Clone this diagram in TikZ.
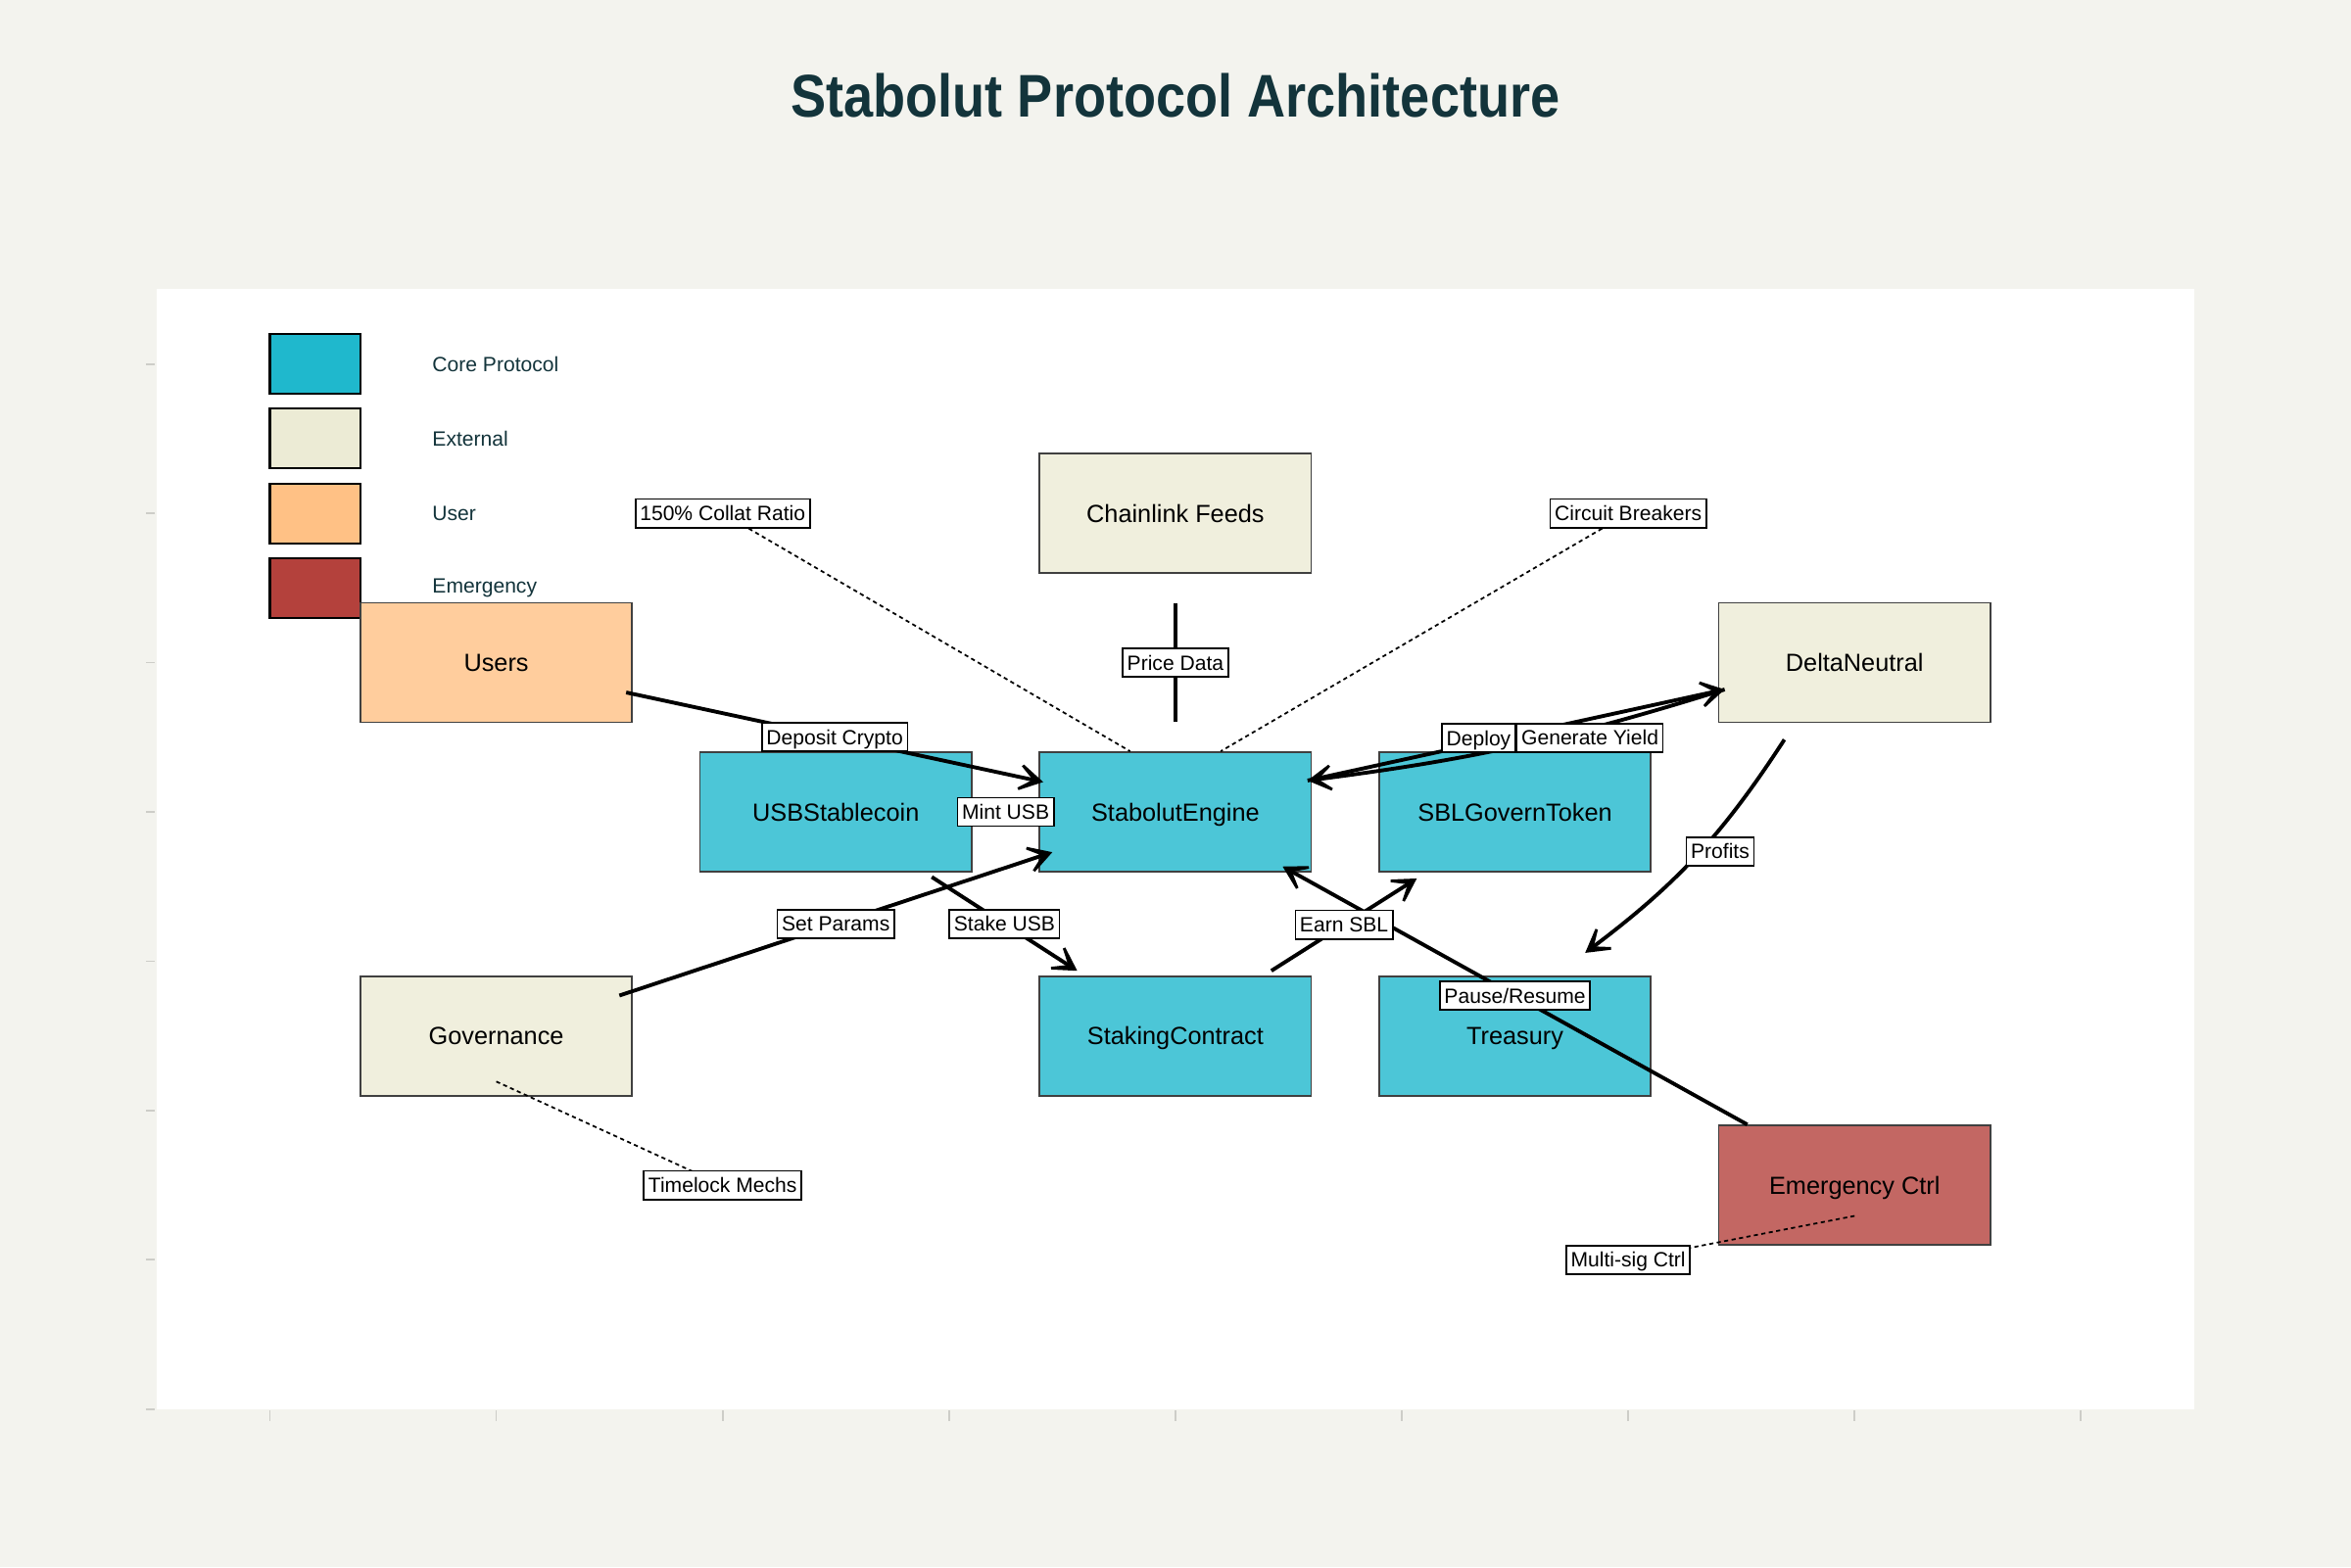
\documentclass[tikz,border=0pt]{standalone}
\usepackage{fontspec}
\setmainfont{Liberation Sans}
\newfontfamily\titlefont{Liberation Sans}[FakeStretch=0.88]
\usetikzlibrary{calc,arrows.meta}

\definecolor{bgcol}{HTML}{F3F3EE}
\definecolor{titlecol}{HTML}{13343B}
\definecolor{corecol}{HTML}{1FB8CD}
\definecolor{extcol}{HTML}{ECEBD5}
\definecolor{usercol}{HTML}{FFC185}
\definecolor{emcol}{HTML}{B4413C}
\definecolor{tickcol}{HTML}{CDCDC8}

\begin{document}
\begin{tikzpicture}[x=2.311cm, y=1.5245cm,
  box/.style={draw=black!75, line width=0.5pt, minimum width=2.773cm, minimum height=1.22cm,
    inner sep=0pt, text height=5.2pt, text depth=0pt, font=\fontsize{7.2}{8.5}\selectfont},
  legbox/.style={draw=black, line width=0.6pt, minimum width=0.924cm, minimum height=0.61cm, inner sep=0pt},
  legtext/.style={anchor=west, inner sep=0pt, text=titlecol, font=\fontsize{6}{7}\selectfont},
  lbl/.style={draw=black, fill=white, line width=0.5pt, inner sep=1.3pt,
    text height=5pt, text depth=0.7pt, font=\fontsize{6}{7}\selectfont},
  flow/.style={line width=1.1pt, -{Stealth[length=0.38cm, width=0.44cm, inset=0.27cm]}},
  note/.style={line width=0.5pt, dash pattern=on 1.2pt off 1pt}]

  % page and plot area
  \fill[bgcol] (-2.755cm,-1.612cm) rectangle (21.245cm,14.388cm);
  \useasboundingbox (-2.755cm,-1.612cm) rectangle (21.245cm,14.388cm);
  \fill[white] (-0.5,0) rectangle (8.5,7.5);
  \foreach \t in {0,...,8}
    \draw[tickcol, line width=0.5pt] (\t,-0.011) -- (\t,-0.077);
  \foreach \t in {0,...,7}
    \draw[tickcol, line width=0.5pt] (-0.509,\t) -- (-0.547,\t);

  \node[font=\titlefont\fontsize{17.5}{20}\selectfont\bfseries, text=titlecol] (title) at (4,8.8)
    {Stabolut Protocol Architecture};

  % legend
  \foreach \lc/\ln [count=\i] in {corecol/Core Protocol, extcol/External, usercol/User, emcol/Emergency} {
    \pgfmathsetmacro{\ly}{7.5-0.5*\i}
    \node[legbox, fill=\lc] (leg\i) at (0.2,\ly) {};
    \node[legtext] (legtxt\i) at (0.715,\ly) {\ln};
  }

  % components
  \node[box, fill=usercol!80] (users) at (1,5) {Users};
  \node[box, fill=extcol!80] (chainlink) at (4,6) {Chainlink Feeds};
  \node[box, fill=extcol!80] (delta) at (7,5) {DeltaNeutral};
  \node[box, fill=corecol!80] (usb) at (2.5,4) {USBStablecoin};
  \node[box, fill=corecol!80] (engine) at (4,4) {StabolutEngine};
  \node[box, fill=corecol!80] (sbl) at (5.5,4) {SBLGovernToken};
  \node[box, fill=extcol!80] (gov) at (1,2.5) {Governance};
  \node[box, fill=corecol!80] (staking) at (4,2.5) {StakingContract};
  \node[box, fill=corecol!80] (treasury) at (5.5,2.5) {Treasury};
  \node[box, fill=emcol!80] (emergency) at (7,1.5) {Emergency Ctrl};

  % flows
  \draw[flow] ($(users.east)+(-0.03,-0.2)$) -- ($(engine.west)+(0.02,0.2)$) coordinate[midway] (depositpos);
  \draw[flow] (engine.west) -- (usb.east) coordinate[midway] (mintpos);
  \draw[line width=1.1pt] ($(chainlink.south)+(0,-0.2)$) -- ($(engine.north)+(0,0.2)$) coordinate[midway] (pricepos);
  \draw[flow] ($(gov.east)+(-0.06,0.27)$) -- ($(engine.west)+(0.06,-0.27)$) coordinate[midway] (paramspos);
  \draw[flow] ($(usb.south east)+(-0.18,-0.03)$) -- ($(staking.north west)+(0.17,0.03)$) coordinate[midway] (stakepos);
  \draw[flow] ($(emergency.north west)+(0.13,0)$) -- ($(engine.south east)+(-0.13,0.04)$) coordinate[midway] (pausepos);
  \draw[flow] ($(staking.north east)+(-0.18,0.03)$) -- ($(sbl.south west)+(0.17,-0.04)$) coordinate[midway] (earnpos);
  \draw[flow] ($(delta.west)+(0.03,-0.18)$) to[bend left=5] coordinate[midway] (yieldpos) ($(engine.east)+(-0.02,0.21)$);
  \draw[flow] ($(engine.east)+(-0.02,0.21)$) -- ($(delta.west)+(0.03,-0.18)$) coordinate[midway] (deploypos);
  \draw[flow] ($(delta.south)+(-0.31,-0.11)$) to[bend left=10] coordinate[midway] (profitpos) ($(treasury.north)+(0.31,0.15)$);

  % notes
  \coordinate (collatpos) at (2,6);
  \coordinate (circuitpos) at (6,6);
  \coordinate (timelockpos) at (2,1.5);
  \coordinate (multisigpos) at (6,1);
  \draw[note] (collatpos) -- ($(engine.north)+(-0.2,0)$);
  \draw[note] (circuitpos) -- ($(engine.north)+(0.2,0)$);
  \draw[note] ($(gov.south)+(0,0.1)$) -- (timelockpos);
  \draw[note] ($(emergency.south)+(0,0.2)$) -- (multisigpos);

  % labels
  \node[lbl] (depositlbl) at (depositpos) {Deposit Crypto};
  \node[lbl] (mintlbl) at (mintpos) {Mint USB};
  \node[lbl] (pricelbl) at (pricepos) {Price Data};
  \node[lbl] (paramslbl) at (paramspos) {Set Params};
  \node[lbl] (stakelbl) at (stakepos) {Stake USB};
  \node[lbl] (pauselbl) at (pausepos) {Pause/Resume};
  \node[lbl] (earnlbl) at (earnpos) {Earn SBL};
  \node[lbl, anchor=east, yshift=-0.03cm] (deploylbl) at (deploypos) {Deploy};
  \node[lbl, anchor=west, shift={(-0.024cm,0.08cm)}] (yieldlbl) at (yieldpos) {Generate Yield};
  \node[lbl, xshift=0.25cm, yshift=0.05cm] (profitlbl) at (profitpos) {Profits};
  \node[lbl] (collatlbl) at (collatpos) {150\% Collat Ratio};
  \node[lbl] (circuitlbl) at (circuitpos) {Circuit Breakers};
  \node[lbl] (timelocklbl) at (timelockpos) {Timelock Mechs};
  \node[lbl] (multisiglbl) at (multisigpos) {Multi-sig Ctrl};
\end{tikzpicture}
\end{document}
